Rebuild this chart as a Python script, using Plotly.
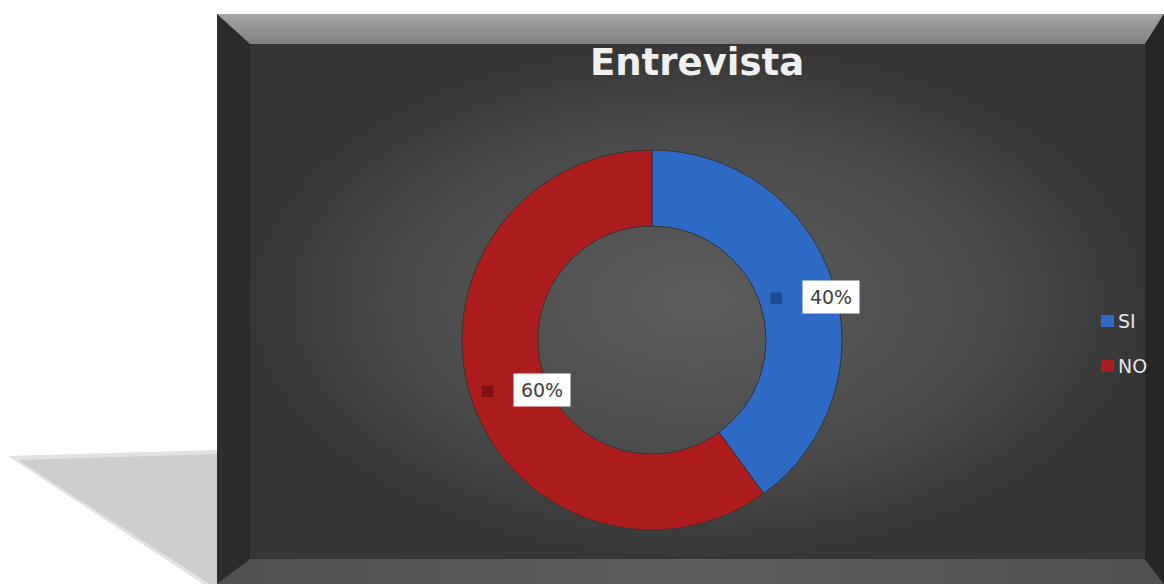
import plotly.graph_objects as go

W, H = 1164, 584
categories = ["SI", "NO"]
values = [40, 60]
colors = ["#2e6ac6", "#ad1c1c"]
key_colors = ["#1c4a93", "#7e1010"]
title_text = "Entrevista"

fig = go.Figure()

def poly(xs, ys, color=None, grad=None):
    kw = dict(fillgradient=grad) if grad else dict(fillcolor=color)
    fig.add_trace(go.Scatter(x=xs + [xs[0]], y=ys + [ys[0]], mode="lines", fill="toself",
                             line=dict(width=0), hoverinfo="skip", showlegend=False, **kw))

# soft shadow on left (layered for blur)
poly([8, 217, 217, 203], [456, 450, 584, 584], "#e2e2e2")
poly([18, 217, 217, 210], [460, 454, 584, 584], "#cdcdcd")
# outer frame
poly([217, 1164, 1164, 217], [14, 14, 584, 584], "#2c2c2c")
# top bevel
poly([217, 1164, 1145, 250], [14, 14, 44, 44],
     grad=dict(type="vertical", colorscale=[[0, "#828282"], [1, "#a6a6a6"]]))
# bottom bevel
poly([250, 1145, 1164, 217], [559, 559, 584, 584],
     grad=dict(type="horizontal", colorscale=[[0, "#505050"], [0.5, "#5e5e5e"], [1, "#505050"]]))
# right bevel
poly([1145, 1164, 1164, 1145], [44, 14, 584, 559], "#262626")
# inner face with radial gradient
poly([250, 1145, 1145, 250], [44, 44, 559, 559],
     grad=dict(type="radial", colorscale=[[0, "#5e5e5e"], [0.65, "#4a4a4a"], [1, "#363636"]]))

# --- donut ---
cx, cy, r = 652, 340, 190
fig.add_trace(go.Pie(labels=categories, values=values, hole=0.6, sort=False,
                     direction="clockwise", rotation=0,
                     marker=dict(colors=colors, line=dict(color="#333333", width=1)),
                     textinfo="none", hoverinfo="label+percent", showlegend=False,
                     domain=dict(x=[(cx - r) / W, (cx + r) / W], y=[1 - (cy + r) / H, 1 - (cy - r) / H])))

# --- data labels ---
label_pos = [(831, 297), (542, 390)]
total = sum(values)
for (lx, ly), v, kc in zip(label_pos, values, key_colors):
    pct = f"{round(100 * v / total)}%"
    fig.add_annotation(x=lx, y=ly, xref="x", yref="y", text=pct, showarrow=False,
                       font=dict(family="DejaVu Sans", size=19, color="#404040"),
                       bgcolor="white", borderpad=0, width=56, height=32)
    # colour key
    fig.add_annotation(x=lx - 55, y=ly, xref="x", yref="y", text="■", showarrow=False,
                       font=dict(family="DejaVu Sans", size=15, color=kc))

# --- legend (manual) ---
for i, (cat, c) in enumerate(zip(categories, colors)):
    yy = 321 + 45 * i
    fig.add_shape(type="rect", xref="x", yref="y", x0=1101, x1=1114, y0=yy - 6, y1=yy + 6,
                  fillcolor=c, line=dict(width=0))
    fig.add_annotation(x=1116, y=yy, xref="x", yref="y", text=cat, showarrow=False, xanchor="left",
                       font=dict(family="DejaVu Sans", size=19, color="#e8e8e8"))

# --- title ---
fig.add_annotation(x=697, y=62, xref="x", yref="y", text=f"<b>{title_text}</b>", showarrow=False,
                   font=dict(family="DejaVu Sans", size=37, color="#f0f0f0"))

fig.update_layout(
    width=W, height=H, margin=dict(l=0, r=0, t=0, b=0),
    paper_bgcolor="white", plot_bgcolor="rgba(0,0,0,0)",
    xaxis=dict(range=[0, W], visible=False, fixedrange=True),
    yaxis=dict(range=[H, 0], visible=False, fixedrange=True),
    showlegend=False,
)
fig.write_html("out.html")
